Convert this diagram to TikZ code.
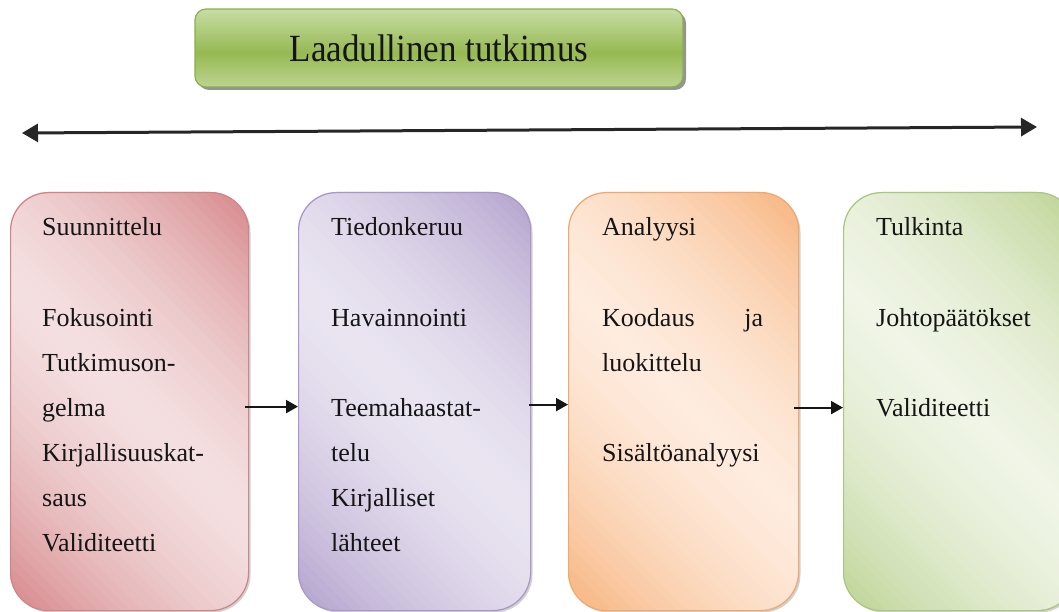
\documentclass[tikz,border=0pt]{standalone}
\usepackage{fontspec}
\setmainfont{Liberation Serif}
\usetikzlibrary{arrows.meta}
\definecolor{tgTop}{HTML}{C8DDA6}
\definecolor{tgMid}{HTML}{96B952}
\definecolor{tgBot}{HTML}{BCD48F}
\definecolor{tgLine}{HTML}{8CAE4E}
\definecolor{rDark}{HTML}{D68689}
\definecolor{rLight}{HTML}{F4E0E1}
\definecolor{rLine}{HTML}{D08486}
\definecolor{pDark}{HTML}{B2A1CC}
\definecolor{pLight}{HTML}{EAE5F1}
\definecolor{pLine}{HTML}{A897C8}
\definecolor{oDark}{HTML}{F7B37D}
\definecolor{oLight}{HTML}{FEECDF}
\definecolor{oLine}{HTML}{F0A86F}
\definecolor{gDark}{HTML}{BDD394}
\definecolor{gLight}{HTML}{F0F5E7}
\definecolor{gLine}{HTML}{A9C77F}
\definecolor{txtcol}{HTML}{151515}
\pgfdeclarelayer{shadowL}
\pgfdeclarelayer{gradL}
\pgfsetlayers{shadowL,gradL,main}
% diagonal gradient (dark - light - dark) clipped to a rounded rectangle
\newcommand\diaggrad[6]{%
  \begin{scope}
    \clip[rounded corners=38pt] (#1,#2) rectangle (#3,#4);
    \pgfmathsetmacro\gcmin{-#3+#2}
    \pgfmathsetmacro\gstep{(-#1+#4-\gcmin)/60}
    \foreach \gi in {0,...,59}{
      \pgfmathsetmacro\gca{\gcmin+\gstep*\gi}
      \pgfmathsetmacro\gcb{\gcmin+\gstep*(\gi+1)+1.5}
      \pgfmathsetmacro\ga{abs(1-2*(\gi+0.5)/60)}
      \pgfmathsetmacro\gm{100*\ga*(0.35+0.65*\ga)}
      \fill[#5!\gm!#6] (#1,#1+\gca) -- (#3,#3+\gca) -- (#3,#3+\gcb) -- (#1,#1+\gcb) -- cycle;
    }
  \end{scope}}
\newcommand\boxshadow[4]{%
  \fill[black!40, opacity=0.45, rounded corners=38pt] (#1+2.5,#2+2.5) rectangle (#3+2.5,#4+2.5);}
\tikzset{
  stagebox/.style={anchor=north west, inner sep=0pt, minimum width=#1, minimum height=418pt,
    rounded corners=38pt, line width=1.2pt},
  redbox/.style={stagebox=238pt, draw=rLine},
  purplebox/.style={stagebox=232pt, draw=pLine},
  orangebox/.style={stagebox=230pt, draw=oLine},
  greenbox/.style={stagebox=232pt, draw=gLine},
  titlebox/.style={inner sep=0pt, minimum width=488pt, minimum height=78pt, rounded corners=11pt,
    draw=tgLine, line width=1.2pt, text=txtcol, font=\fontsize{35}{40}\selectfont},
  txt/.style={anchor=base west, inner sep=0pt, text=txtcol, font=\fontsize{26}{30}\selectfont},
  flow/.style={line width=2pt, draw=txtcol, -{Triangle[length=12pt,width=13pt]}},
  span/.style={line width=3pt, draw=black!85, {Triangle[length=16pt,width=18pt]}-{Triangle[length=16pt,width=18pt]}}
}
\begin{document}
\begin{tikzpicture}[x=1pt,y=-1pt]
\useasboundingbox (0,0) rectangle (1059,612);
% ---- shadows
\begin{pgfonlayer}{shadowL}
  \fill[black!70, opacity=0.6, rounded corners=11pt] (198,12) rectangle (686,90);
  \boxshadow{10}{192}{248}{610}
  \boxshadow{298}{192}{530}{610}
  \boxshadow{568}{192}{798}{610}
  \boxshadow{843}{192}{1075}{610}
\end{pgfonlayer}
% ---- gradients
\begin{pgfonlayer}{gradL}
  \begin{scope}
    \clip[rounded corners=11pt] (195,9) rectangle (683,87);
    \foreach \gi in {0,...,21}{
      \pgfmathsetmacro\gm{100*(\gi+0.5)/22}
      \fill[tgMid!\gm!tgTop] (195,9+2*\gi) rectangle (683,11.6+2*\gi);
    }
    \foreach \gi in {0,...,16}{
      \pgfmathsetmacro\gm{100*(\gi+0.5)/17}
      \fill[tgBot!\gm!tgMid] (195,53+2*\gi) rectangle (683,55.6+2*\gi);
    }
  \end{scope}
  \diaggrad{10}{192}{248}{610}{rDark}{rLight}
  \diaggrad{298}{192}{530}{610}{pDark}{pLight}
  \diaggrad{568}{192}{798}{610}{oDark}{oLight}
  \diaggrad{843}{192}{1075}{610}{gDark}{gLight}
\end{pgfonlayer}
% title
\node[titlebox] (title) at (439,48) {\scalebox{1}[1.1]{Laadullinen tutkimus}};
% time span arrow
\coordinate (spanL) at (22,133);
\coordinate (spanR) at (1037,127);
\draw[span] (spanL) -- (spanR);
% stage boxes
\node[redbox] (b1) at (10,192) {};
\node[purplebox] (b2) at (298,192) {};
\node[orangebox] (b3) at (568,192) {};
\node[greenbox] (b4) at (843,192) {};
% box 1 text
\node[txt] (b1t1) at (42,236) {Suunnittelu};
\node[txt] (b1t2) at (42,326) {Fokusointi};
\node[txt] (b1t3) at (42,371) {Tutkimuson-};
\node[txt] (b1t4) at (42,416) {gelma};
\node[txt] (b1t5) at (42,461) {Kirjallisuuskat-};
\node[txt] (b1t6) at (42,506) {saus};
\node[txt] (b1t7) at (42,551) {Validiteetti};
% box 2 text
\node[txt] (b2t1) at (331,236) {Tiedonkeruu};
\node[txt] (b2t2) at (331,326) {Havainnointi};
\node[txt] (b2t3) at (331,416) {Teemahaastat-};
\node[txt] (b2t4) at (331,461) {telu};
\node[txt] (b2t5) at (331,506) {Kirjalliset};
\node[txt] (b2t6) at (331,551) {lähteet};
% box 3 text
\node[txt] (b3t1) at (602,236) {Analyysi};
\node[txt, text width=161pt] (b3t2) at (602,326) {Koodaus\hfill ja};
\node[txt] (b3t3) at (602,371) {luokittelu};
\node[txt] (b3t4) at (602,461) {Sisältöanalyysi};
% box 4 text
\node[txt] (b4t1) at (876,236) {Tulkinta};
\node[txt] (b4t2) at (876,326) {Johtopäätökset};
\node[txt] (b4t3) at (876,416) {Validiteetti};
% flow arrows
\draw[flow] ([xshift=-4pt,yshift=-5pt]b1.east) -- ([yshift=-5pt]b2.west);
\draw[flow] ([xshift=-2pt,yshift=-3pt]b2.east) -- ([yshift=-3pt]b3.west);
\draw[flow] ([xshift=-5pt,yshift=-6pt]b3.east) -- ([yshift=-6pt]b4.west);
\end{tikzpicture}
\end{document}
